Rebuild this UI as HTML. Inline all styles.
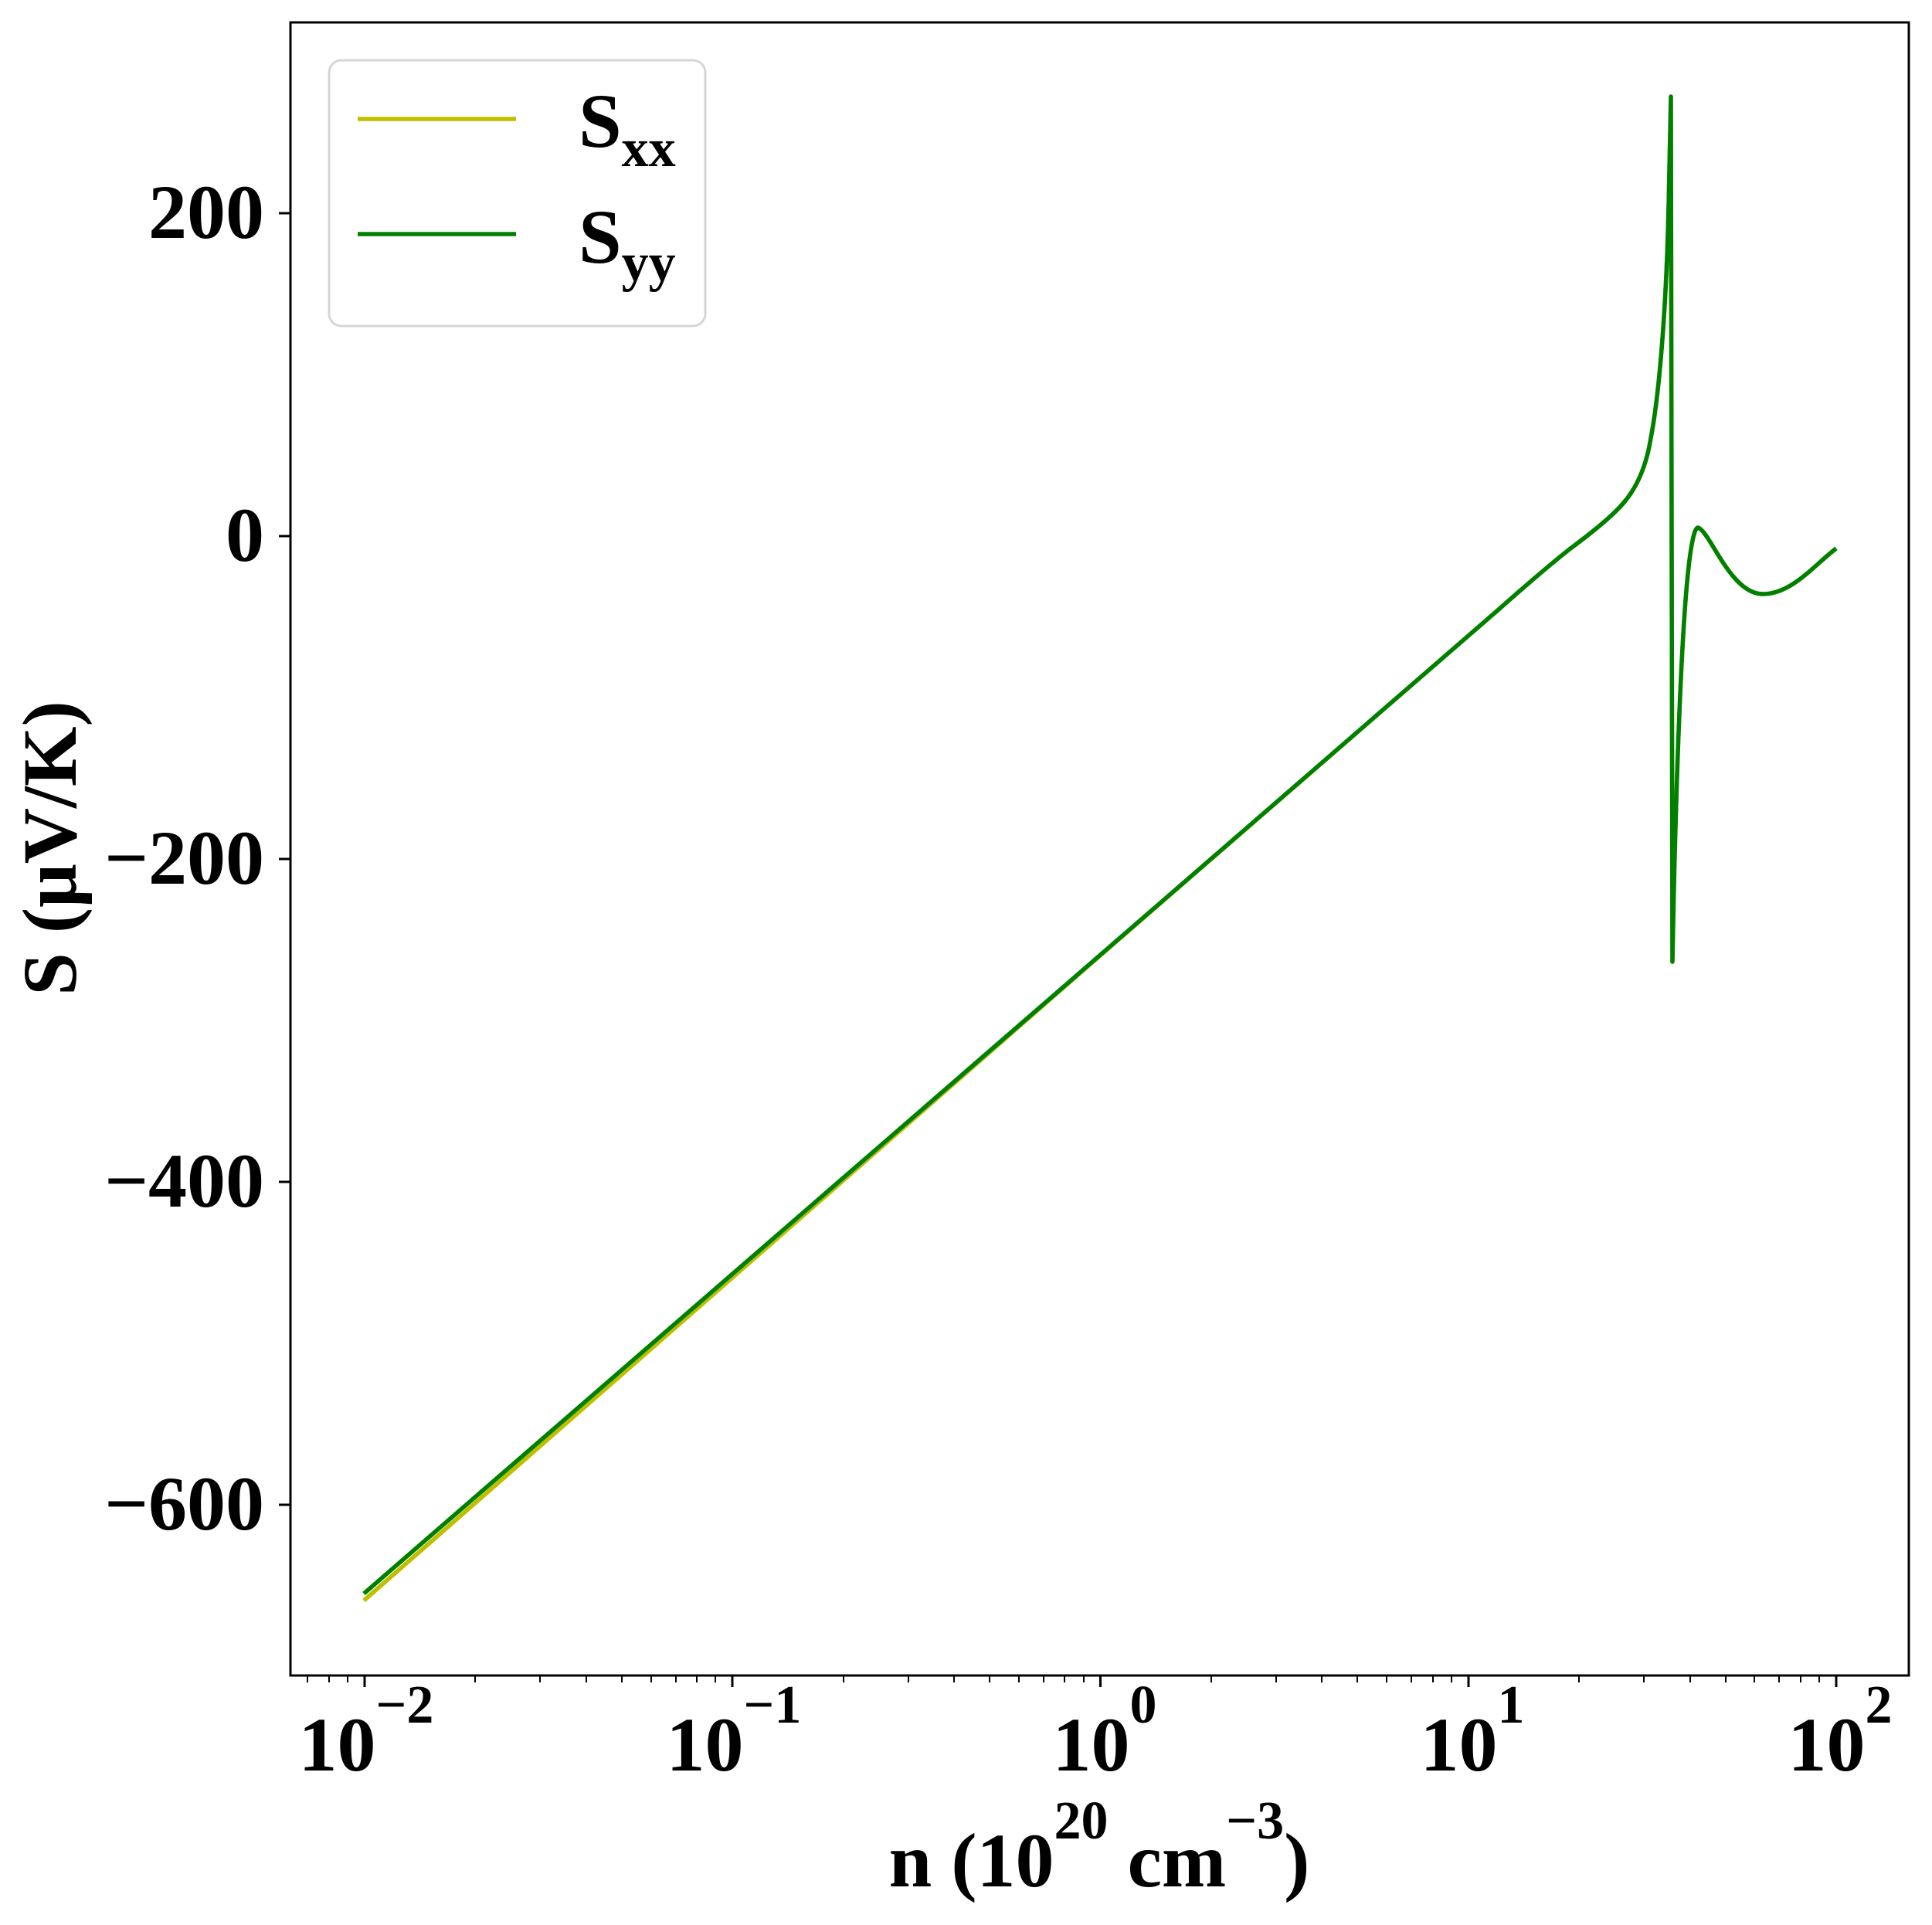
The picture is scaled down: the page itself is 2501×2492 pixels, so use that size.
<!DOCTYPE html>
<html><head><meta charset="utf-8"><style>html,body{margin:0;padding:0;background:#fff}svg{display:block}
svg text{font-family:"Liberation Serif","Times New Roman",Times,serif;font-weight:bold}</style></head>
<body>
<svg width="2501" height="2492" viewBox="0 0 2501 2492" xmlns="http://www.w3.org/2000/svg">
<rect width="2501" height="2492" fill="#fff"/>
<g fill="none" stroke-width="5.5" stroke-linejoin="round" stroke-linecap="butt">
<path stroke="#bfbf00" d="M471,2072 L1400,1258 L1940,789 C1975,758 2005,732 2033,710 C2060,690 2085,670 2100,653 C2118,633 2131,605 2137,567 C2148,510 2157,400 2160,268 L2163,125 L2164,700 L2165,1245 C2167,1130 2172,920 2181,790 C2186,720 2192,683 2198,683 C2214,688 2240,769 2282,769 C2320,769 2350,730 2377,710"/>
<path stroke="#008000" d="M471,2063 L1940,789 C1975,758 2005,732 2033,710 C2060,690 2085,670 2100,653 C2118,633 2131,605 2137,567 C2148,510 2157,400 2160,268 L2163,125 L2164,700 L2165,1245 C2167,1130 2172,920 2181,790 C2186,720 2192,683 2198,683 C2214,688 2240,769 2282,769 C2320,769 2350,730 2377,710"/>
</g>
<rect x="376" y="29" width="2095" height="2140" fill="none" stroke="#000" stroke-width="3"/>
<g stroke="#000" stroke-width="3">
<line x1="361" y1="276" x2="376" y2="276"/>
<line x1="361" y1="694" x2="376" y2="694"/>
<line x1="361" y1="1112" x2="376" y2="1112"/>
<line x1="361" y1="1530" x2="376" y2="1530"/>
<line x1="361" y1="1948" x2="376" y2="1948"/>
</g>
<g font-size="100" text-anchor="end">
<text x="342" y="308">200</text>
<text x="342" y="726">0</text>
<text x="342" y="1144">−200</text>
<text x="342" y="1562">−400</text>
<text x="342" y="1980">−600</text>
</g>
<g stroke="#000" stroke-width="3">
<line x1="472" y1="2169" x2="472" y2="2184"/>
<line x1="948" y1="2169" x2="948" y2="2184"/>
<line x1="1424.5" y1="2169" x2="1424.5" y2="2184"/>
<line x1="1901" y1="2169" x2="1901" y2="2184"/>
<line x1="2377" y1="2169" x2="2377" y2="2184"/>
</g>
<g stroke="#000" stroke-width="2">
<path d="M398,2169v9M426,2169v9M450,2169v9
M615,2169v9M699,2169v9M759,2169v9M805,2169v9M843,2169v9M875,2169v9M902,2169v9M926,2169v9
M1092,2169v9M1176,2169v9M1235,2169v9M1281,2169v9M1319,2169v9M1351,2169v9M1378,2169v9M1403,2169v9
M1568,2169v9M1652,2169v9M1711,2169v9M1757,2169v9M1795,2169v9M1827,2169v9M1855,2169v9M1879,2169v9
M2044,2169v9M2128,2169v9M2188,2169v9M2234,2169v9M2271,2169v9M2303,2169v9M2331,2169v9M2355,2169v9"/>
</g>
<g font-size="100" text-anchor="middle">
<text x="474" y="2292">10<tspan font-size="70" dy="-62">−2</tspan></text>
<text x="950" y="2292">10<tspan font-size="70" dy="-62">−1</tspan></text>
<text x="1430" y="2292">10<tspan font-size="70" dy="-62">0</tspan></text>
<text x="1906" y="2292">10<tspan font-size="70" dy="-62">1</tspan></text>
<text x="2382" y="2292">10<tspan font-size="70" dy="-62">2</tspan></text>
</g>
<text x="1423" y="2442" font-size="100" text-anchor="middle">n (10<tspan font-size="70" dy="-62">20</tspan><tspan dy="62"> cm</tspan><tspan font-size="70" dy="-62">−3</tspan><tspan dy="62">)</tspan></text>
<text transform="translate(98,1098) rotate(-90)" font-size="100" text-anchor="middle">S (μV/K)</text>
<rect x="426" y="78" width="487" height="344" rx="16" ry="16" fill="#fff" fill-opacity="0.8" stroke="#d6d6d6" stroke-width="3"/>
<line x1="463" y1="154" x2="668" y2="154" stroke="#bfbf00" stroke-width="5.5"/>
<line x1="463" y1="303" x2="668" y2="303" stroke="#008000" stroke-width="5.5"/>
<text x="749" y="190" font-size="100">S<tspan font-size="70" dy="25">xx</tspan></text>
<text x="749" y="340" font-size="100">S<tspan font-size="70" dy="23">yy</tspan></text>
</svg>
</body></html>
